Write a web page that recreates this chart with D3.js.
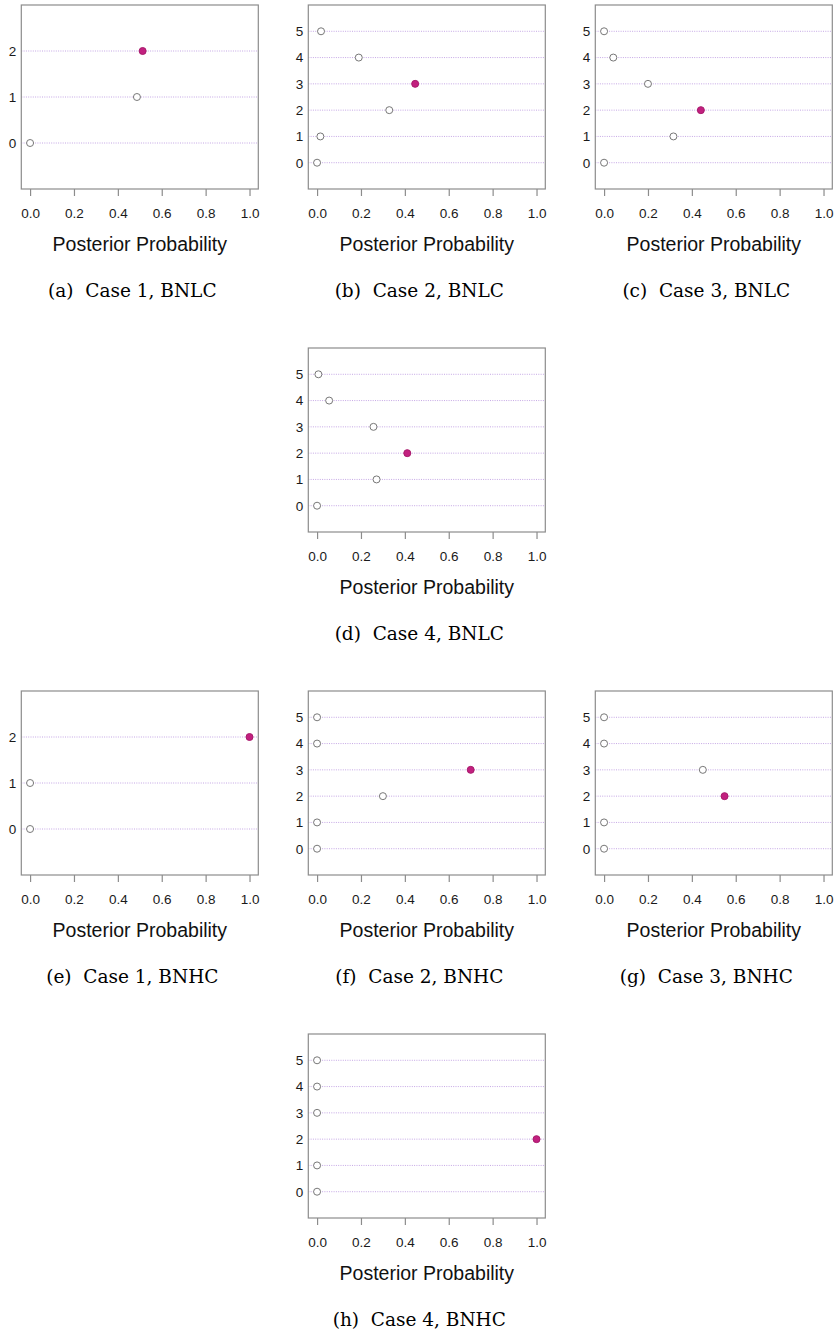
<!DOCTYPE html>
<html>
<head>
<meta charset="utf-8">
<script src="https://cdn.jsdelivr.net/npm/d3@7"></script>
<style>
  body { margin: 0; background: #fff; }
  svg { display: block; }
</style>
</head>
<body>
<div id="vis-container"></div>
<script>
// data: posterior probability per number of clusters
const casesA = [0, 1, 2];
const probA = [0.0, 0.487, 0.513];
const casesB = [0, 1, 2, 3, 4, 5];
const probB = [0.0, 0.015, 0.329, 0.447, 0.19, 0.018];
const probC = [0.0, 0.316, 0.441, 0.2, 0.042, 0.0];
const probD = [0.0, 0.271, 0.411, 0.257, 0.055, 0.006];
const probE = [0.0, 0.0, 1.0];
const probF = [0.0, 0.0, 0.3, 0.7, 0.0, 0.0];
const probG = [0.0, 0.0, 0.549, 0.45, 0.0, 0.0];
const probH = [0.0, 0.0, 1.0, 0.0, 0.0, 0.0];
const xTicks = [0, 0.2, 0.4, 0.6, 0.8, 1.0];
const captions = ["(a)  Case 1, BNLC", "(b)  Case 2, BNLC", "(c)  Case 3, BNLC", "(d)  Case 4, BNLC",
                  "(e)  Case 1, BNHC", "(f)  Case 2, BNHC", "(g)  Case 3, BNHC", "(h)  Case 4, BNHC"];

const panels = [
  { cats: casesA, probs: probA, col: 0, row: 0 },
  { cats: casesB, probs: probB, col: 1, row: 0 },
  { cats: casesB, probs: probC, col: 2, row: 0 },
  { cats: casesB, probs: probD, col: 1, row: 1 },
  { cats: casesA, probs: probE, col: 0, row: 2 },
  { cats: casesB, probs: probF, col: 1, row: 2 },
  { cats: casesB, probs: probG, col: 2, row: 2 },
  { cats: casesB, probs: probH, col: 1, row: 3 }
];

const W = 835, H = 1338;
const colLeft = [21.3, 308.3, 595.3];
const rowTop = [5, 348, 691, 1034];
const boxW = 237, boxH = 184;

const svg = d3.select("#vis-container")
  .append("svg")
    .attr("width", W)
    .attr("height", H);

const font = "'Liberation Sans', Arial, Helvetica, sans-serif";

panels.forEach((p, i) => {
  const g = svg.append("g")
    .attr("transform", `translate(${colLeft[p.col]},${rowTop[p.row]})`);

  const x = d3.scaleLinear().domain([-0.04, 1.04]).range([0, boxW]);
  const y = d3.scaleLinear().domain([-1, p.cats.length]).range([boxH, 0]);

  // dotted guide lines
  g.selectAll("line.grid")
    .data(p.cats)
    .join("line")
      .attr("class", "grid")
      .attr("x1", 0)
      .attr("x2", boxW)
      .attr("y1", d => y(d))
      .attr("y2", d => y(d))
      .attr("stroke", "#c4a6e4")
      .attr("stroke-width", 1)
      .attr("stroke-dasharray", "1,1.3");

  // box
  g.append("rect")
    .attr("width", boxW)
    .attr("height", boxH)
    .attr("fill", "none")
    .attr("stroke", "#8c8c8c")
    .attr("stroke-width", 1.2);

  // x axis
  const xa = g.append("g")
    .attr("transform", `translate(0,${boxH})`)
    .call(d3.axisBottom(x).tickValues(xTicks).tickFormat(d3.format(".1f")).tickSize(7));
  xa.select(".domain").remove();
  xa.selectAll(".tick line").attr("stroke", "#8c8c8c").attr("stroke-width", 1.2);
  xa.selectAll(".tick text")
    .attr("y", 28.7).attr("dy", null)
    .attr("fill", "#1a1a1a")
    .style("font-family", font)
    .style("font-size", "13.5px");

  // y axis
  const ya = g.append("g")
    .call(d3.axisLeft(y).tickValues(p.cats).tickFormat(d3.format("d")).tickSize(0).tickPadding(5));
  ya.select(".domain").remove();
  ya.selectAll(".tick text")
    .attr("fill", "#1a1a1a")
    .style("font-family", font)
    .style("font-size", "13.5px");

  // axis title
  g.append("text")
    .attr("x", boxW / 2)
    .attr("y", boxH + 61.7)
    .attr("text-anchor", "middle")
    .attr("fill", "#111")
    .style("font-family", font)
    .style("font-size", "19.5px")
    .text("Posterior Probability");

  // points; the most probable one is filled
  const best = d3.maxIndex(p.probs);
  g.selectAll("circle")
    .data(p.cats.map((c, j) => ({ c, v: p.probs[j], best: j === best })))
    .join("circle")
      .attr("cx", d => x(d.v))
      .attr("cy", d => y(d.c))
      .attr("r", 3.5)
      .attr("fill", d => d.best ? "#c2207f" : "#fff")
      .attr("stroke", d => d.best ? "#a81a6c" : "#777")
      .attr("stroke-width", 1);

  // caption
  g.append("text")
    .attr("x", 111)
    .attr("y", boxH + 108.3)
    .attr("text-anchor", "middle")
    .attr("fill", "#000")
    .style("font-family", "'DejaVu Serif', serif")
    .style("font-size", "18.5px")
    .style("white-space", "pre")
    .text(captions[i]);
});
</script>
</body>
</html>
